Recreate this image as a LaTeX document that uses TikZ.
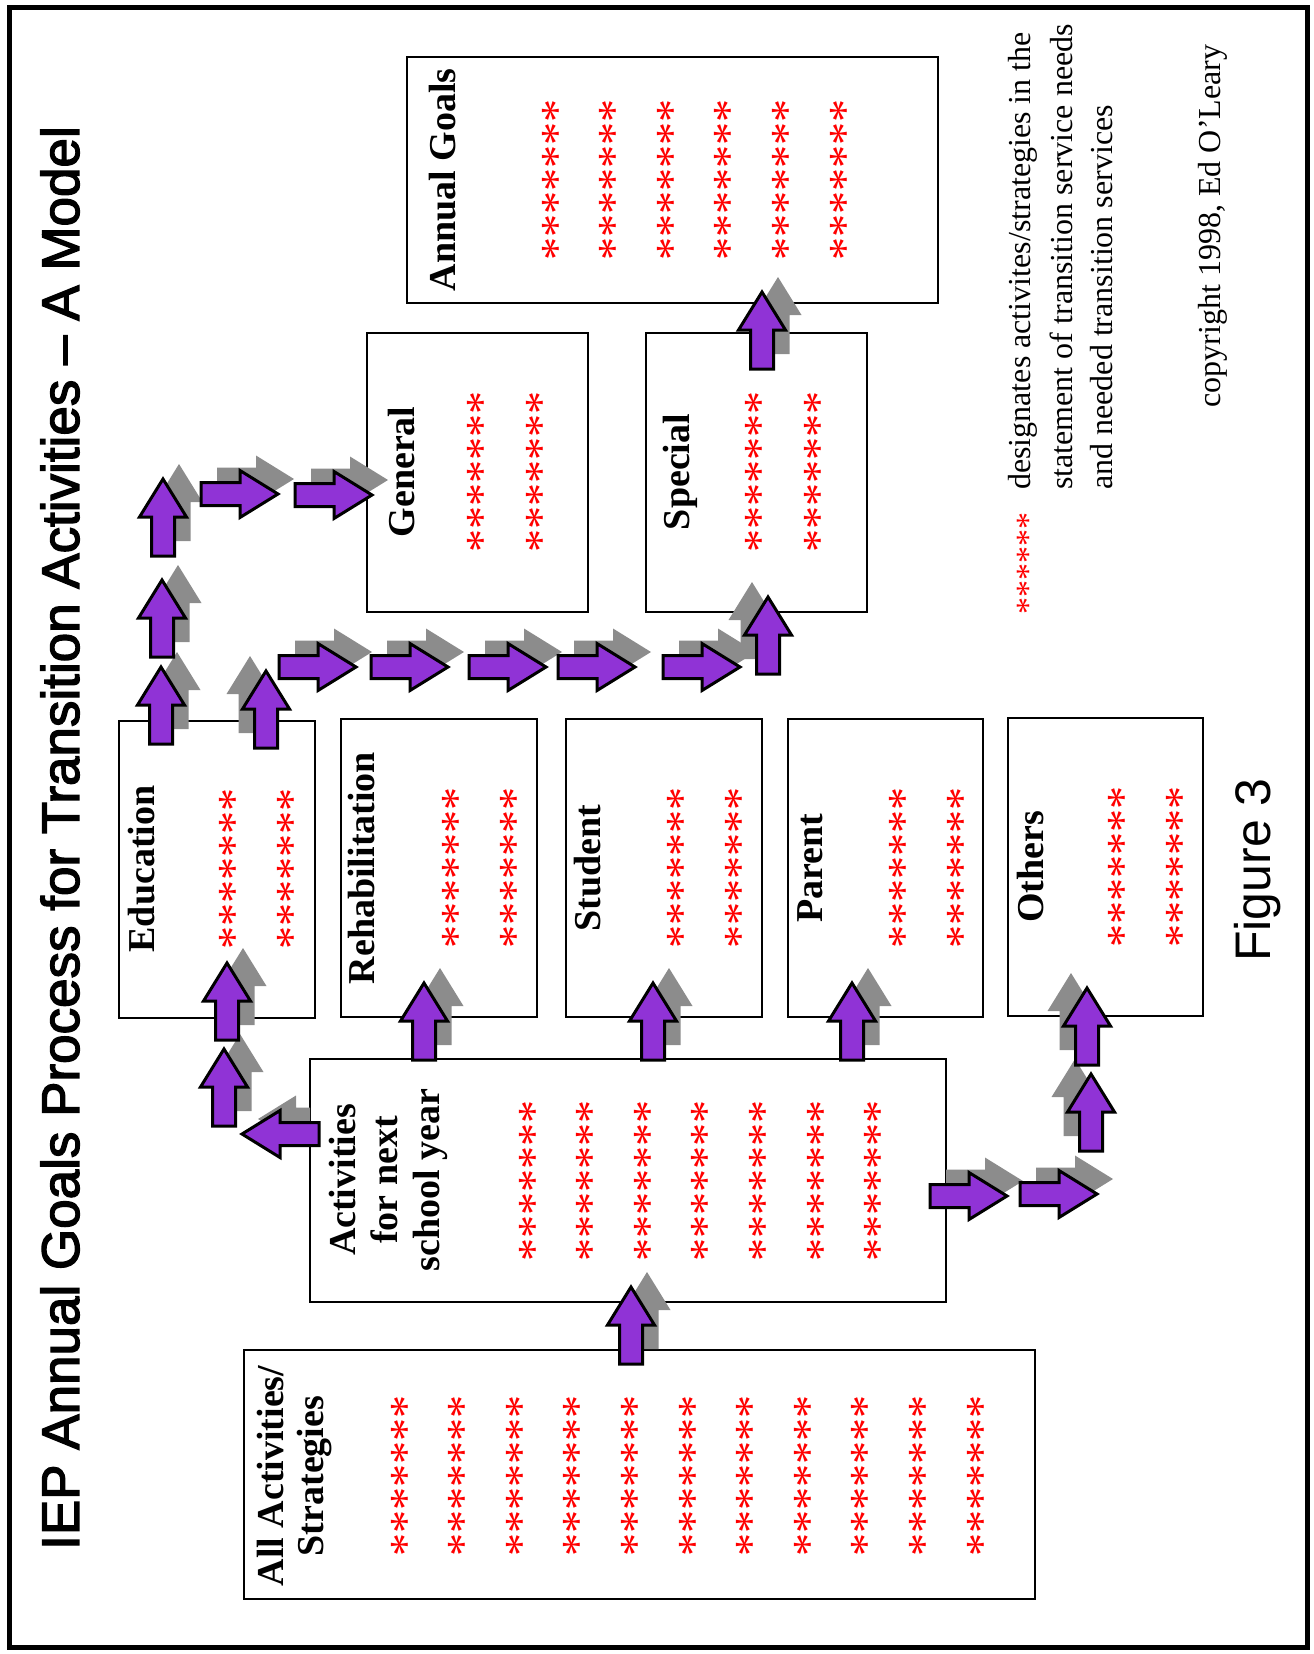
\documentclass[tikz,border=0pt]{standalone}
\usepackage{fontspec}
\setmainfont{Liberation Serif}
\newfontfamily\headfont[FakeBold=2.5]{Liberation Sans}
\newfontfamily\figfont{Liberation Sans}
\definecolor{arrowpurple}{RGB}{144,51,214}
\definecolor{shadowgray}{RGB}{140,140,140}
\pgfdeclarelayer{shadows}
\pgfdeclarelayer{front}
\pgfsetlayers{main,shadows,front}

\tikzset{
  box/.style={draw,line width=2.5pt,inner sep=0pt},
  boxtitle/.style={rotate=90,font=\fontsize{38}{42}\selectfont\bfseries,align=center,inner sep=0pt},
  stars/.style={rotate=90,text=red,font=\fontsize{46}{46}\selectfont,anchor=base,inner sep=0pt},
  legend/.style={rotate=90,font=\fontsize{32}{32}\selectfont,inner sep=0pt},
  blockarrow/.style={fill=arrowpurple,draw=black,line width=3pt,line join=miter},
  blockshadow/.style={fill=shadowgray},
}

% block arrows, tip at (#1,#2), shadow moved sideways by #3
\newcommand{\arrowup}[3]{%
  \begin{pgfonlayer}{shadows}
  \fill[blockshadow,shift={(#3,-15)}] (#1,#2) -- ++(23.5,38) -- ++(-12,0) -- ++(0,39) -- ++(-23,0) -- ++(0,-39) -- ++(-12,0) -- cycle;
  \end{pgfonlayer}
  \begin{pgfonlayer}{front}
  \draw[blockarrow] (#1,#2) -- ++(23.5,38) -- ++(-12,0) -- ++(0,39) -- ++(-23,0) -- ++(0,-39) -- ++(-12,0) -- cycle;
  \end{pgfonlayer}}
\newcommand{\arrowright}[2]{%
  \begin{pgfonlayer}{shadows}
  \fill[blockshadow,shift={(16,-15)}] (#1,#2) -- ++(-38,-23.5) -- ++(0,12) -- ++(-39,0) -- ++(0,23) -- ++(39,0) -- ++(0,12) -- cycle;
  \end{pgfonlayer}
  \begin{pgfonlayer}{front}
  \draw[blockarrow] (#1,#2) -- ++(-38,-23.5) -- ++(0,12) -- ++(-39,0) -- ++(0,23) -- ++(39,0) -- ++(0,12) -- cycle;
  \end{pgfonlayer}}

\begin{document}
\begin{tikzpicture}[x=1pt,y=-1pt]
  \useasboundingbox (0,0) rectangle (1314,1654);
  \draw[line width=5pt] (9,8) rectangle (1307,1647);

  \node[rotate=90,font=\headfont\fontsize{53}{53}\selectfont] (title) at (60,838)
    {IEP Annual Goals Process for Transition Activities – A Model};
  \node[rotate=90,font=\figfont\fontsize{50}{50}\selectfont] (figure) at (1258,870) {Figure 3};

  % boxes
  \node[box,minimum width=531,minimum height=246] (goals) at (672.5,180) {};
  \node[box,minimum width=221,minimum height=279] (general) at (477.5,472.5) {};
  \node[box,minimum width=221,minimum height=279] (special) at (756.5,472.5) {};
  \node[box,minimum width=196,minimum height=297] (educ) at (217,869.5) {};
  \node[box,minimum width=196,minimum height=298] (rehab) at (439,868) {};
  \node[box,minimum width=196,minimum height=298] (student) at (664,868) {};
  \node[box,minimum width=195,minimum height=298] (parent) at (885.5,868) {};
  \node[box,minimum width=195,minimum height=298] (others) at (1105.5,867) {};
  \node[box,minimum width=636,minimum height=243] (nextyear) at (628,1180.5) {};
  \node[box,minimum width=791,minimum height=249] (allact) at (639.5,1474.5) {};

  \node[boxtitle] (goalsT) at (443,180) {Annual Goals};
  \node[boxtitle] (generalT) at (401,472) {General};
  \node[boxtitle] (specialT) at (680,472) {Special};
  \node[boxtitle] (educT) at (142,869) {Education};
  \node[boxtitle] (rehabT) at (361,868) {Rehabilitation};
  \node[boxtitle] (studentT) at (588,868) {Student};
  \node[boxtitle] (parentT) at (810,868) {Parent};
  \node[boxtitle] (othersT) at (1030,867) {Others};
  \node[boxtitle] (nextyearT) at (388,1180) {Activities\\for next\\school year};
  \node[boxtitle,font=\fontsize{38}{40}\selectfont\bfseries] (allactT) at (295,1476) {All Activities/\\Strategies};

  % asterisk columns
  \foreach \i in {0,...,5} \node[stars] (goalsS\i) at ({572+57.6*\i},180) {*******};
  \foreach \x [count=\i] in {475,534} {
    \node[stars] (generalS\i) at (\x+22,472) {*******};
    \node[stars] (specialS\i) at (\x+278+22,472) {*******};
  }
  \foreach \x [count=\i] in {227,285} {
    \node[stars] (educS\i) at (\x+22,869) {*******};
    \node[stars] (rehabS\i) at (\x+223+22,868) {*******};
    \node[stars] (studentS\i) at (\x+448+22,868) {*******};
    \node[stars] (parentS\i) at (\x+670+22,868) {*******};
    \node[stars] (othersS\i) at (\x+889+22,867) {*******};
  }
  \foreach \i in {0,...,6} \node[stars] (nextyearS\i) at ({549+57.6*\i},1181) {*******};
  \foreach \i in {0,...,10} \node[stars] (allactS\i) at ({421+57.6*\i},1476) {*******};

  % legend
  \node[stars,font=\fontsize{34}{34}\selectfont] (legS) at (1039,563) {******};
  \node[legend,anchor=base west] (leg1) at (1030,490) {designates activites/strategies in the};
  \node[legend,anchor=base west] (leg2) at (1072,490) {statement of transition service needs};
  \node[legend,anchor=base west] (leg3) at (1112,490) {and needed transition services};
  \node[legend] (copy) at (1213,226) {copyright 1998, Ed O’Leary};

  % arrows
  \arrowup{631}{1287}{16}
  \arrowup{424}{983}{16}
  \arrowup{653}{983}{16}
  \arrowup{852}{983}{16}
  \begin{pgfonlayer}{shadows}
  \begin{scope}
    \clip (0,0) rectangle (310,1654);
    \fill[blockshadow,shift={(16,-15)}] (242,1134) -- ++(38,-23.5) -- ++(0,12) -- ++(39,0) -- ++(0,23) -- ++(-39,0) -- ++(0,12) -- cycle;
  \end{scope}
  \end{pgfonlayer}
  \begin{pgfonlayer}{front}
  \draw[blockarrow] (242,1134) -- ++(38,-23.5) -- ++(0,12) -- ++(39,0) -- ++(0,23) -- ++(-39,0) -- ++(0,12) -- cycle;
  \end{pgfonlayer}
  \arrowup{224}{1049}{16}
  \arrowup{227}{963}{16}
  \arrowup{161}{667}{16}
  \arrowup{266}{671}{-16}
  \arrowup{162}{580}{16}
  \arrowup{163}{479}{16}
  \arrowright{278}{494}
  \arrowright{372}{495}
  \foreach \x in {356,448,546,635,740} {\arrowright{\x}{667}}
  \arrowup{768}{597}{-16}
  \arrowup{762}{292}{16}
  \arrowright{1007}{1196}
  \arrowright{1097}{1194}
  \arrowup{1091}{1074}{-16}
  \arrowup{1087}{988}{-16}
\end{tikzpicture}
\end{document}
